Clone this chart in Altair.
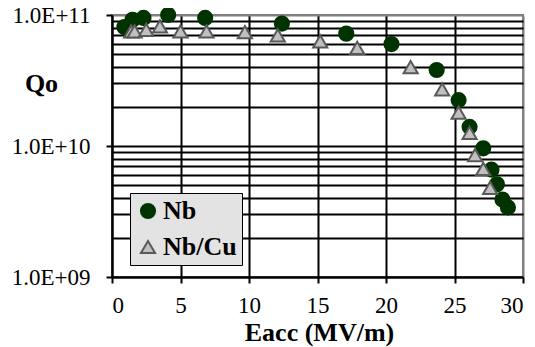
import altair as alt
import pandas as pd

# Data
nb_x = [0.9, 1.5, 2.3, 4.1, 6.8, 12.4, 17.1, 20.4, 23.7, 25.3, 26.1, 27.1, 27.7, 28.1, 28.5, 28.9]
nb_q = [8.1e10, 9.2e10, 9.5e10, 1.0e11, 9.5e10, 8.6e10, 7.2e10, 6.0e10, 3.8e10, 2.24e10,
        1.40e10, 9.6e9, 6.6e9, 5.1e9, 3.9e9, 3.4e9]
cu_x = [1.4, 1.65, 2.5, 3.5, 5.0, 6.9, 9.7, 12.1, 15.2, 17.9, 21.8, 24.1, 25.3, 26.1, 26.5, 27.1, 27.6]
cu_q = [7.5e10, 7.5e10, 7.7e10, 8.2e10, 7.5e10, 7.5e10, 7.4e10, 7.0e10, 6.3e10, 5.6e10,
        4.0e10, 2.7e10, 1.8e10, 1.26e10, 8.5e9, 6.7e9, 4.8e9]

series_names = ["Nb", "Nb/Cu"]
x_ticks = [0, 5, 10, 15, 20, 25, 30]
y_major = [1e9, 1e10, 1e11]
y_major_labels = ["1.0E+09", "1.0E+10", "1.0E+11"]
y_grid = [k * 10 ** e for e in (9, 10) for k in range(1, 10)] + [10 ** 11]

rows = [{"Eacc": x, "Qo": q, "series": series_names[0]} for x, q in zip(nb_x, nb_q)]
rows += [{"Eacc": x, "Qo": q, "series": series_names[1]} for x, q in zip(cu_x, cu_q)]
df = pd.DataFrame(rows)

major_test = " || ".join(f"datum.value == {v:.0e}" for v in y_major)
label_expr = " : ".join(f"datum.value == {v:.0e} ? '{lab}'" for v, lab in zip(y_major, y_major_labels)) + " : ''"

FONT = "Times New Roman, Liberation Serif, serif"

chart = alt.Chart(df).mark_point(filled=True, clip=False, strokeWidth=2, opacity=1, size=200).encode(
    x=alt.X("Eacc:Q",
            scale=alt.Scale(domain=[0, 30], nice=False, zero=False),
            axis=alt.Axis(values=x_ticks, title="Eacc (MV/m)", format="d",
                          grid=True,
                          gridColor={"condition": {"test": "datum.value == 30", "value": "#808080"}, "value": "black"},
                          gridWidth=2,
                          domainColor="black", domainWidth=2,
                          tickColor="black", tickWidth=2, tickSize=6,
                          labelFont=FONT, labelFontSize=23, labelColor="black",
                          labelPadding=11,
                          titleFont=FONT, titleFontSize=26, titleFontWeight="bold", titleColor="black",
                          titleX=207, titleY=55, titleBaseline="middle", titleAnchor="middle")),
    y=alt.Y("Qo:Q",
            scale=alt.Scale(type="log", domain=[1e9, 1e11], nice=False),
            axis=alt.Axis(values=y_grid, title="Qo", labelExpr=label_expr, labelOverlap=False,
                          grid=True,
                          gridColor={"condition": {"test": "datum.value == 1e11", "value": "#808080"}, "value": "black"},
                          gridWidth=2,
                          domainColor="black", domainWidth=2,
                          tickColor="black", tickWidth=2, tickSize=6,
                          tickOpacity={"condition": {"test": major_test, "value": 1}, "value": 0},
                          labelFont=FONT, labelFontSize=23, labelColor="black",
                          labelPadding=16, labelBaseline="middle",
                          titleFont=FONT, titleFontSize=26, titleFontWeight="bold", titleColor="black",
                          titleAngle=0, titleX=-71, titleY=68, titleAlign="center", titleBaseline="middle")),
    shape=alt.Shape("series:N", scale=alt.Scale(domain=series_names, range=["circle", "triangle-up"]),
                    legend=alt.Legend(title=None, orient="none", legendX=18, legendY=178)),
    fill=alt.Fill("series:N", scale=alt.Scale(domain=series_names, range=["#003300", "#c0c0c0"])),
    stroke=alt.Stroke("series:N", scale=alt.Scale(domain=series_names, range=["#003300", "#595959"])),
).properties(
    width=411, height=262,
    autosize=alt.AutoSizeParams(type="none"),
    padding={"left": 104, "top": 7, "right": 4, "bottom": 70},
).configure(
    font=FONT
).configure_view(
    stroke="#808080", strokeWidth=2
).configure_legend(
    fillColor="#e3e3e3", strokeColor="black",
    padding=5, rowPadding=10, symbolSize=200, symbolStrokeWidth=2,
    labelFont=FONT, labelFontSize=26, labelFontWeight="bold", labelColor="black",
    labelOffset=2,
)

chart.save("out.html", embed_options={"renderer": "svg", "actions": False})
